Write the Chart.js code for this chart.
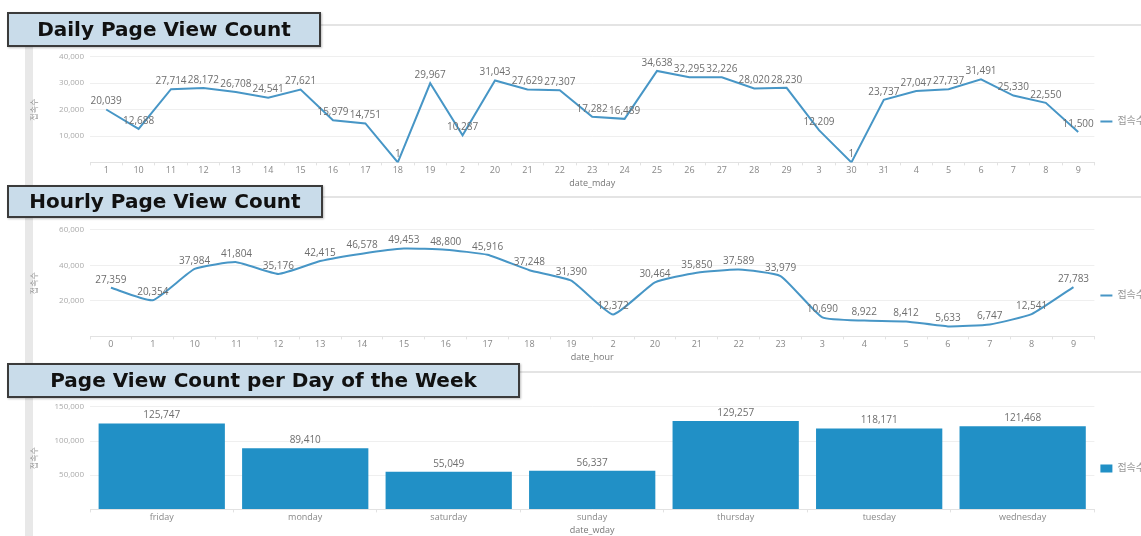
<!DOCTYPE html>
<html>
<head>
<meta charset="utf-8">
<script src="https://cdn.jsdelivr.net/npm/chart.js@4"></script>
<style>
  body { margin: 0; width: 1141px; height: 536px; overflow: hidden; background: #fff; position: relative; font-family: "Open Sans", "Noto Sans CJK KR", sans-serif; }
  .strip { position: absolute; left: 25px; top: 46px; width: 8px; height: 500px; background: #e8e8e8; }
  .sep { position: absolute; left: 33px; right: 0; height: 2px; background: #e4e4e4; }
  .box { position: absolute; left: 7px; background: #c9dcea; border: 2px solid #3b3b3b; box-sizing: border-box;
         font-family: "DejaVu Sans", sans-serif; font-weight: 700; font-size: 20px; color: #111; text-align: center;
         z-index: 2; box-shadow: 1px 1px 2px rgba(0,0,0,0.25); }
  canvas { position: absolute; left: 30px; }
</style>
</head>
<body>
<div class="strip"></div>
<div class="sep" style="top:24px"></div>
<div class="sep" style="top:196px"></div>
<div class="sep" style="top:371px"></div>

<div class="box" style="top:12px;width:314px;height:35px;line-height:31px">Daily Page View Count</div>
<div class="box" style="top:185px;width:316px;height:33px;line-height:29px">Hourly Page View Count</div>
<div class="box" style="top:363px;width:513px;height:35px;line-height:31px">Page View Count per Day of the Week</div>

<canvas id="dailyLine" width="1125" height="145" style="top:46px"></canvas>
<canvas id="hourlyLine" width="1125" height="146" style="top:219px"></canvas>
<canvas id="wdayBar" width="1125" height="142" style="top:396px"></canvas>

<script>
const seriesName = "접속수";

const dayLabels = ["1","10","11","12","13","14","15","16","17","18","19","2","20","21","22","23","24","25","26","27","28","29","3","30","31","4","5","6","7","8","9"];
const dayValues = [20039,12688,27714,28172,26708,24541,27621,15979,14751,1,29967,10287,31043,27629,27307,17282,16489,34638,32295,32226,28020,28230,12209,1,23737,27047,27737,31491,25330,22550,11500];

const hourLabels = ["0","1","10","11","12","13","14","15","16","17","18","19","2","20","21","22","23","3","4","5","6","7","8","9"];
const hourValues = [27359,20354,37984,41804,35176,42415,46578,49453,48800,45916,37248,31390,12372,30464,35850,37589,33979,10690,8922,8412,5633,6747,12541,27783];

const wdayLabels = ["friday","monday","saturday","sunday","thursday","tuesday","wednesday"];
const wdayValues = [125747,89410,55049,56337,129257,118171,121468];

const lineColor = "#4796c6";
const barColor = "#2190c6";
const fontFamily = "'Open Sans', 'Noto Sans CJK KR', sans-serif";

// draws the value above each point / bar
const valueLabels = {
  id: "valueLabels",
  afterDatasetsDraw(chart) {
    const ctx = chart.ctx;
    ctx.save();
    ctx.font = "10px " + fontFamily;
    ctx.fillStyle = "#6e6e6e";
    ctx.textAlign = "center";
    ctx.textBaseline = "bottom";
    chart.data.datasets.forEach((ds, i) => {
      chart.getDatasetMeta(i).data.forEach((el, j) => {
        ctx.fillText(ds.data[j].toLocaleString("en-US"), el.x, el.y - 3);
      });
    });
    ctx.restore();
  },
};

function axisOptions(xTitle, max, step) {
  return {
    x: {
      offset: true,
      grid: { display: true, drawOnChartArea: false, offset: true, tickLength: 3, color: "#e2e2e2" },
      border: { color: "#e2e2e2", dash: [2, 2] },
      ticks: { color: "#888", font: { size: 9, family: fontFamily }, padding: 0, maxRotation: 0, autoSkip: false },
      title: { display: true, text: xTitle, color: "#777", font: { size: 9, family: fontFamily }, padding: 2 },
    },
    y: {
      min: 0,
      max: max,
      afterFit: (scale) => { scale.width = 60; },
      grid: { color: "#efefef", drawTicks: false },
      border: { display: false },
      ticks: {
        stepSize: step,
        color: "#aaa",
        font: { size: 8, family: fontFamily },
        padding: 6,
        callback: (v) => (v === 0 ? "" : v.toLocaleString("en-US")),
      },
      title: { display: true, text: seriesName, color: "#999", font: { size: 8, family: fontFamily }, padding: 0 },
    },
  };
}

function legendOptions(isLine) {
  return {
    display: true,
    position: "right",
    labels: {
      color: "#999",
      font: { size: 10, family: fontFamily },
      boxWidth: 12,
      boxHeight: isLine ? 2 : 8,
      pointStyleWidth: 12,
      padding: 6,
      usePointStyle: isLine,
      pointStyle: "line",
    },
  };
}

new Chart(document.getElementById("dailyLine").getContext("2d"), {
  type: "line",
  data: {
    labels: dayLabels,
    datasets: [{
      label: seriesName,
      data: dayValues,
      borderColor: lineColor,
      backgroundColor: lineColor,
      borderWidth: 2,
      pointRadius: 0,
      tension: 0,
    }],
  },
  options: {
    responsive: false,
    animation: false,
    layout: { padding: { top: 6, right: 0, bottom: 0 } },
    scales: axisOptions("date_mday", 40000, 10000),
    plugins: { legend: legendOptions(true), tooltip: { enabled: false } },
  },
  plugins: [valueLabels],
});

new Chart(document.getElementById("hourlyLine").getContext("2d"), {
  type: "line",
  data: {
    labels: hourLabels,
    datasets: [{
      label: seriesName,
      data: hourValues,
      borderColor: lineColor,
      backgroundColor: lineColor,
      borderWidth: 2,
      pointRadius: 0,
      tension: 0.15,
    }],
  },
  options: {
    responsive: false,
    animation: false,
    layout: { padding: { top: 7, right: 0, bottom: 0 } },
    scales: axisOptions("date_hour", 60000, 20000),
    plugins: { legend: legendOptions(true), tooltip: { enabled: false } },
  },
  plugins: [valueLabels],
});

new Chart(document.getElementById("wdayBar").getContext("2d"), {
  type: "bar",
  data: {
    labels: wdayLabels,
    datasets: [{
      label: seriesName,
      data: wdayValues,
      backgroundColor: barColor,
      borderWidth: 0,
      categoryPercentage: 0.88,
      barPercentage: 1.0,
    }],
  },
  options: {
    responsive: false,
    animation: false,
    layout: { padding: { top: 3, right: 0, bottom: 0 } },
    scales: axisOptions("date_wday", 150000, 50000),
    plugins: { legend: legendOptions(false), tooltip: { enabled: false } },
  },
  plugins: [valueLabels],
});
</script>
</body>
</html>
